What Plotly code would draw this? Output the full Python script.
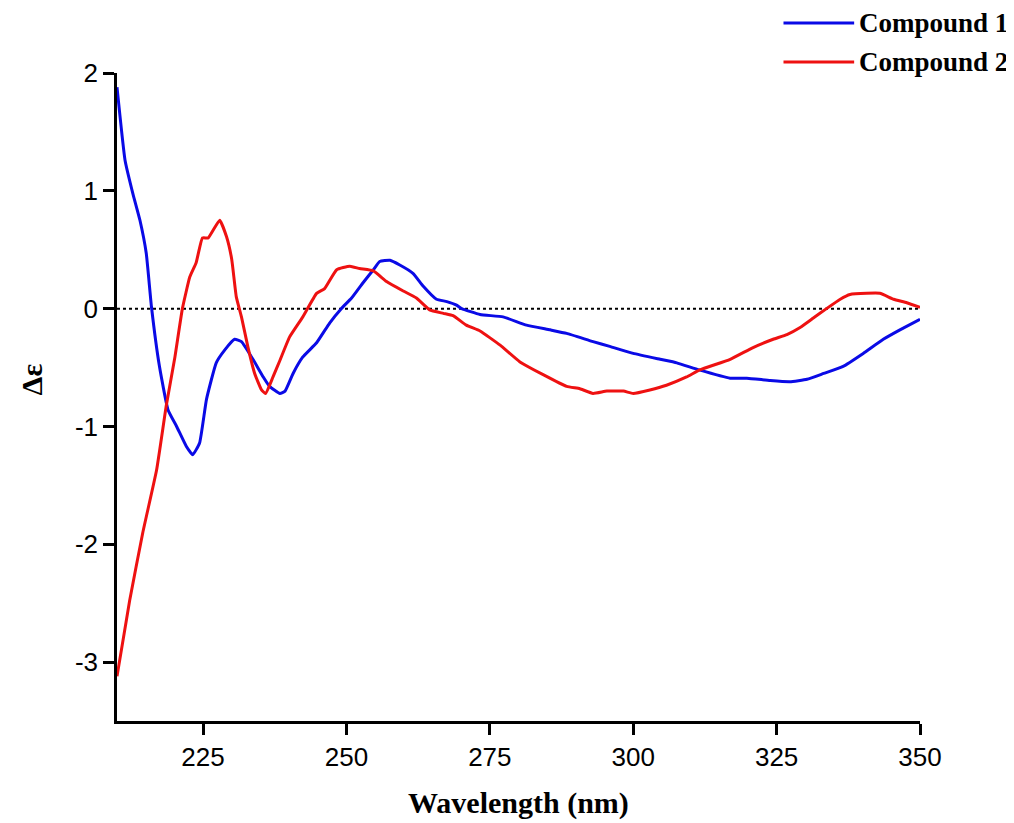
import plotly.graph_objects as go

# ---- data ----
wl_1 = [210.0, 211.4, 212.8, 214.0, 215.1, 216.0, 217.4, 218.9, 220.4, 222.1, 223.2, 224.4,
        225.6, 227.3, 228.8, 230.5, 231.7, 233.7, 235.5, 236.6, 238.4, 239.3, 240.7, 242.4,
        244.8, 247.1, 249.1, 250.9, 252.9, 254.7, 255.8, 257.6, 259.3, 261.6, 263.4, 265.7,
        267.5, 269.2, 270.1, 273.3, 277.3, 281.4, 285.5, 288.4, 293.0, 295.9, 300.0, 304.7,
        307.6, 311.5, 316.9, 319.8, 323.9, 327.3, 330.3, 333.2, 336.6, 340.1, 343.6, 346.5,
        350.0]
de_1 = [1.88, 1.26, 0.97, 0.75, 0.47, 0.02, -0.49, -0.86, -1.00, -1.17, -1.24, -1.14,
        -0.77, -0.46, -0.35, -0.26, -0.28, -0.43, -0.58, -0.66, -0.72, -0.70, -0.55, -0.41,
        -0.29, -0.12, 0.00, 0.09, 0.22, 0.33, 0.40, 0.41, 0.37, 0.30, 0.19, 0.08,
        0.06, 0.03, 0.00, -0.05, -0.07, -0.14, -0.18, -0.21, -0.28, -0.32, -0.38, -0.43,
        -0.46, -0.52, -0.59, -0.59, -0.61, -0.62, -0.60, -0.55, -0.49, -0.38, -0.26, -0.18,
        -0.09]

wl_2 = [210.0, 212.2, 214.5, 216.9, 218.6, 220.1, 221.4, 222.7, 223.8, 224.9, 225.9, 227.9,
        229.1, 230.0, 230.8, 231.7, 232.8, 234.0, 235.2, 235.9, 237.2, 238.4, 240.1, 242.4,
        244.8, 246.2, 248.3, 250.6, 252.3, 254.7, 257.0, 259.9, 262.2, 264.5, 266.9, 268.6,
        270.9, 273.3, 276.8, 280.2, 284.3, 288.4, 290.7, 293.0, 295.4, 298.3, 300.0, 302.9,
        305.8, 309.3, 311.6, 316.9, 320.9, 324.4, 326.8, 329.1, 331.4, 333.7, 336.1, 337.8,
        340.7, 343.0, 345.4, 347.7, 350.0]
de_2 = [-3.12, -2.48, -1.90, -1.37, -0.82, -0.41, 0.00, 0.27, 0.39, 0.60, 0.60, 0.75,
        0.61, 0.42, 0.10, -0.07, -0.32, -0.55, -0.69, -0.72, -0.58, -0.44, -0.24, -0.07,
        0.13, 0.17, 0.33, 0.36, 0.34, 0.32, 0.23, 0.15, 0.09, -0.01, -0.04, -0.06,
        -0.14, -0.19, -0.31, -0.45, -0.56, -0.66, -0.68, -0.72, -0.70, -0.70, -0.72, -0.69,
        -0.65, -0.58, -0.52, -0.43, -0.33, -0.26, -0.22, -0.16, -0.08, 0.00, 0.08, 0.12,
        0.13, 0.13, 0.08, 0.05, 0.01]

series_names = ["Compound 1", "Compound 2"]
x_ticks = [225, 250, 275, 300, 325, 350]
x_ticklabels = ["225", "250", "275", "300", "325", "350"]
y_ticks = [-3, -2, -1, 0, 1, 2]
y_ticklabels = ["-3", "-2", "-1", "0", "1", "2"]
x_title = "Wavelength (nm)"
y_title = "Δε"

# ---- styling ----
BLUE = "#0A0AE6"
RED = "#EE1111"
SANS = "Liberation Sans, Arial, sans-serif"
SERIF = "Liberation Serif, Times New Roman, serif"

fig = go.Figure()
fig.add_trace(go.Scatter(x=wl_1, y=de_1, mode="lines", name=series_names[0],
                         line=dict(color=BLUE, width=3, shape="spline", smoothing=0.4),
                         showlegend=False))
fig.add_trace(go.Scatter(x=wl_2, y=de_2, mode="lines", name=series_names[1],
                         line=dict(color=RED, width=3, shape="spline", smoothing=0.4),
                         showlegend=False))

# dotted zero line
fig.add_shape(type="line", xref="paper", yref="y", x0=0, x1=1, y0=0, y1=0,
              line=dict(color="black", width=2, dash="dot"), layer="below")

# manual legend (line sample + bold serif label)
leg_y = [1.077, 1.017]
for name, col, ly in zip(series_names, [BLUE, RED], leg_y):
    fig.add_shape(type="line", xref="paper", yref="paper", x0=0.830, x1=0.918,
                  y0=ly, y1=ly, line=dict(color=col, width=3))
    fig.add_annotation(xref="paper", yref="paper", x=0.921, y=ly, xanchor="left",
                       yanchor="middle", showarrow=False, text=name,
                       font=dict(family=SERIF, size=27, color="black", weight="bold"))

# axis titles
fig.add_annotation(xref="paper", yref="paper", x=0.5, y=-0.1265, xanchor="center",
                   yanchor="middle", showarrow=False, text=x_title,
                   font=dict(family=SERIF, size=30, color="black", weight="bold"))
fig.add_annotation(xref="paper", yref="paper", x=-0.106, y=0.527, xanchor="center",
                   yanchor="middle", showarrow=False, text=y_title, textangle=-90,
                   font=dict(family=SERIF, size=30, color="black", weight="bold"))

axis_common = dict(showline=True, linecolor="black", linewidth=2.5, showgrid=False,
                   zeroline=False, ticks="outside", ticklen=11, tickwidth=2.5,
                   tickcolor="black", tickfont=dict(family=SANS, size=26, color="black"))

fig.update_xaxes(range=[210, 350], tickmode="array", tickvals=x_ticks,
                 ticktext=x_ticklabels, **axis_common)
fig.update_yaxes(range=[-3.5, 2], tickmode="array", tickvals=y_ticks,
                 ticktext=y_ticklabels, **axis_common)

# page body has an 8px default margin, so the figure is sized to fit the window
fig.update_layout(width=1006, height=815, plot_bgcolor="white", paper_bgcolor="white",
                  margin=dict(l=109, r=94, t=65, b=102, autoexpand=False),
                  showlegend=False)

fig.write_html("out.html")
